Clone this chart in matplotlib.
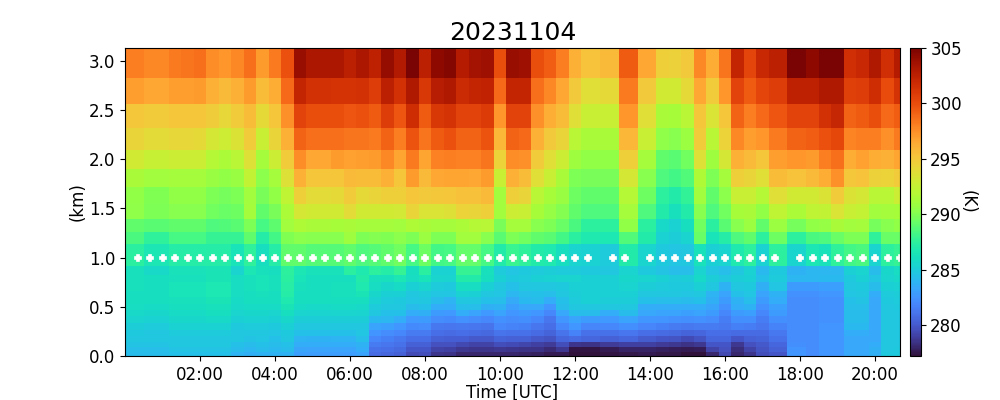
import matplotlib
matplotlib.use('Agg')
import matplotlib.pyplot as plt
import numpy as np

title = '20231104'

# scan times in minutes after 00:00 (three scans are missing)
scan_min = [0, 20, 40, 60, 80, 100, 120, 140, 160, 180, 200, 220, 240, 260, 280, 300, 320, 340, 360, 380,
            400, 420, 440, 460, 480, 500, 520, 540, 560, 580, 600, 620, 640, 660, 680, 700, 720, 740, 780, 800,
            840, 860, 880, 900, 920, 940, 960, 980, 1000, 1020, 1040, 1080, 1100, 1120, 1140, 1160, 1180, 1200, 1220, 1240]

# layer edges in km, top to bottom
z_edges = [3.132, 2.830, 2.563, 2.319, 2.095, 1.902, 1.719, 1.546, 1.393, 1.261, 1.139, 0.915, 0.824,
           0.753, 0.661, 0.600, 0.529, 0.468, 0.407, 0.336, 0.264, 0.203, 0.142, 0.092, 0.041, 0.0]

# temperature (K) above 0.82 km, one list per layer
temp_upper = [
    [298.1,298.1,297.8,297.8,298.2,298.4,298.6,297.6,297.2,297.8,
     298.6,297,298.2,299.8,304,303.2,303.2,303.2,302.6,303.2,
     302.4,304.1,303,305,302.6,304.3,304.6,302.9,303.5,303.7,
     300,304,303.8,300,299.3,298.1,296.2,295.3,295.7,299.4,
     296.6,294.6,294.5,295,297.8,296.4,298.4,302.2,300.4,302,
     302.6,304.9,304.3,305,305,301.6,302,303.1,301.6,302.9],
    [296.9,296.9,296.6,296.6,296.9,296.9,297,296.2,295.7,296.2,
     297,295.6,296.4,298.9,302.2,301.5,301.5,301.4,301.4,301.5,
     300.8,302.6,301.5,303.1,301.1,302.8,303.1,301.9,302.2,302.3,
     298.9,302.2,302.2,298.6,297.8,296.6,295,293.8,294.1,298.2,
     295,293,293,294.1,296.6,294.8,297.2,300.5,299.4,300.4,
     300.8,302.5,302.4,303.1,303.1,300.7,300.8,301.7,300.1,301.4],
    [295.1,295.1,294.9,294.9,295.2,295.2,295.2,294.7,294.2,294.8,
     295.6,294.1,295.2,297.4,300.5,300,300,300,299.6,299.8,
     299.4,300.8,299.6,301.7,299.4,301.1,301.4,300.5,300.5,300.9,
     297.2,300.5,300.5,297.4,296.3,295.6,293.8,292.7,292.7,297.2,
     293.8,291.4,291.3,292,295.2,293.4,295.2,299.1,298.1,298.9,
     299.6,300.5,300.5,301.5,302.1,299.1,299.4,300,298.9,299.3],
    [294.3,294.3,294,294,294.2,294.2,294.1,293.2,292.9,293.5,
     294.9,292.7,294.3,296.2,299.1,298.6,298.6,298.6,298.4,298.4,
     298.2,299.1,298.1,299.7,298.4,299.4,299.8,299.1,299.1,299.7,
     295.8,299.1,298.9,296.2,295,294.3,292,291.4,291.4,295.8,
     292.7,290.4,290.2,290.8,294.8,292,294.4,297.8,296.9,297.2,
     298.2,299.1,299.3,299.8,300.3,297.9,298.1,298.1,297.4,298.2],
    [293,293,292.6,292.6,292.8,292.8,292.8,291.8,291.5,292,
     293.6,291.2,292.8,294.9,297.6,296.6,296.6,297,296.8,296.9,
     297,297.8,296.7,298.2,296.7,298,298.1,298,298,298.4,
     294.4,297.6,297.4,294.8,293.8,292.8,290.9,290.5,290.5,294.6,
     291.2,289.1,288.9,289.5,293.6,290.9,293.2,296.2,295.7,295.2,
     296.9,297.2,297,298.1,298.7,296.4,296.8,296.4,296.2,296.7],
    [291.4,291.4,291,291,291.2,291.2,291.2,290.7,290.5,290.7,
     292.4,290.3,291.2,293.6,296.2,295.2,295.2,295.2,295.7,295.6,
     295.6,296.2,295.2,297,295.7,296.6,296.7,296.7,296.6,297,
     292.7,296.2,295.6,293.8,292.7,291.4,289.9,289.7,289.7,293.2,
     290.2,288.5,288.2,288.7,291.6,289.9,291.2,294.6,294.3,293.8,
     295.6,295.3,295.7,296.4,297.4,295.1,295.3,294.5,294.4,294.9],
    [290.5,290.5,290,290,290.5,290.5,290.5,289.8,289.6,289.8,
     291,289.7,290.5,292.2,294.6,294,294,294.1,294.8,294.1,
     294.3,294.6,294.6,295.2,295,295.1,295.2,295.4,295.4,295.7,
     291,294.6,294.3,292,291.3,290.7,289.4,289.1,289.1,291.8,
     289.4,287.5,287,287.7,291,289.1,290.3,292.7,292.7,291.8,
     293.8,293,293,293.5,294.9,293.5,293.2,292,292,292.8],
    [290.4,290.4,289.8,289.8,290.2,290.2,290.2,289.5,289.3,289.4,
     291.2,289.1,289.7,291.5,293.2,293,293,293,294,293,
     293,293,293.1,294.3,293.4,293.4,293.7,294.4,294.3,294.6,
     291,292.8,292.7,291.3,290.6,290.1,289.1,288.5,288.6,291.2,
     288.5,287,286.2,287,290.2,288.6,289.5,291.3,291.4,290.5,
     292.2,291.5,292.2,292.4,293.4,292.7,292.5,291,291.2,291.3],
    [289.1,289.1,288.9,288.9,289.1,289.1,289.1,288.6,288.7,288.9,
     289.8,288.3,289,291,291.6,291.4,291.4,291.3,291.4,291.1,
     291.2,291.1,291,291.6,291.4,291.2,291.2,291.5,291.8,291.9,
     289.7,291.2,291.1,290.2,289.9,289.3,288.4,287.5,287.5,290.5,
     287.3,285.7,285.3,286,289.5,287.3,288.9,290.2,290.8,289.1,
     290.8,289.6,290.5,290.6,291.4,291,291.2,289.6,290.2,290.5],
    [288.4,288.4,287.6,287.6,288.3,288.3,288.3,287.8,287.8,287.8,
     289.1,287.1,288.2,290,290.3,290.2,290.2,290.2,290.9,289.9,
     290.1,290,290.3,289.9,290.8,289.9,289.8,291,291,290.2,
     288.9,289.8,289.5,289.1,288.9,288.2,287.3,286.8,286.7,288.7,
     287,285.3,285.1,285.4,289.3,286.4,287.1,288.5,289.1,287.5,
     289.4,287.5,288.4,288.5,289.3,289.9,289.9,287.6,289.3,289.3],
    [287.3,287.3,286.6,286.6,287.1,287.1,287.1,287.1,287.1,286.4,
     287.6,286,287.1,289.1,289.1,288.8,288.8,288.8,289.1,288.5,
     288.8,289.1,289.5,288.3,289.4,288.2,288.3,289.2,289.2,288.3,
     287,287.9,287.6,287,286.8,286,285.4,285.3,285,287,
     285.5,284.9,284.6,284.7,286.3,285.2,285.4,286.8,287.5,285.3,
     287.5,285.5,286.6,286.3,287.6,288.2,288.4,285.4,287.5,287.8],
    [286.2,286.2,285.7,285.7,286.3,286.3,286.3,286.5,286.5,285.4,
     286.6,286.2,286,287.5,286.6,286.3,286.3,286.3,287.4,286.8,
     287.5,287.1,287.8,286,287.4,285.3,285.3,287.8,287.8,286.2,
     285,284.6,284.9,285,285.1,285,285,284.9,284.7,285.4,
     284.9,284.5,284.3,284.3,285.4,284.6,284.3,284.7,285.3,284.1,
     284.9,283.8,284,284,284,285.2,285.4,284.2,285.6,285.9],
]

# temperature (K) below 0.82 km, one list per scan, top layer first
temp_lower = [
    [286.2,286.2,286.1,286.1,285.9,285.7,285.4,285.1,284.9,284.7,284.5,284.3,284.2],
    [286.2,286.2,286.1,286.1,285.9,285.7,285.4,285.1,284.9,284.7,284.5,284.3,284.2],
    [286,286.1,286,286,285.8,285.6,285.3,285,284.8,284.7,284.5,284.3,284.2],
    [286,286.1,286,286,285.8,285.6,285.3,285,284.8,284.7,284.5,284.3,284.2],
    [286.2,286.4,286.4,286.2,286,285.8,285.6,285.3,285,284.8,284.7,284.5,284.4],
    [286.2,286.4,286.4,286.2,286,285.8,285.6,285.3,285,284.8,284.7,284.5,284.4],
    [286.2,286.4,286.4,286.2,286,285.8,285.6,285.3,285,284.8,284.7,284.5,284.4],
    [286.5,286.7,286.7,286.5,286.2,286,285.7,285.3,285,284.8,284.7,284.5,284.4],
    [286.5,286.7,286.7,286.5,286.2,286,285.7,285.3,285,284.8,284.7,284.5,284.4],
    [285.9,285.9,285.9,285.8,285.7,285.5,285.2,284.9,284.8,284.7,284.4,284.2,283.9],
    [286.2,286.2,286.1,286,285.8,285.6,285.3,285,284.7,284.5,284.2,284,283.7],
    [286.4,286.4,286.2,286,285.8,285.6,285.3,285,284.7,284.6,284.4,284.2,283.8],
    [286.2,286.2,286.1,286,285.8,285.5,285.2,284.9,284.6,284.4,284.2,284.1,283.8],
    [287.3,287.2,287.1,286.8,286.5,286,285.6,285.2,284.9,284.7,284.4,284.2,283.8],
    [286.4,286.2,286.1,286,285.8,285.5,285.1,284.7,284.4,283.9,283.6,283.2,283],
    [286.1,286.1,286.1,286,285.7,285.4,285.1,284.7,284.4,283.8,283.6,283.1,282.9],
    [286.1,286.1,286.1,286,285.7,285.4,285.1,284.7,284.4,283.8,283.6,283.1,282.9],
    [286.1,286.2,286.2,286.1,285.8,285.5,285.1,284.8,284.4,283.9,283.6,283.1,282.9],
    [286.1,286.2,286.2,286.1,285.8,285.5,285.1,284.8,284.4,283.9,283.6,283.1,282.9],
    [287,286.8,286.5,286,285.7,285.4,285.1,284.8,284.6,284.3,283.8,283.6,283.1],
    [286.2,285.9,285.6,285.3,285,284.7,284.1,283.1,282.5,281.9,281.4,281,280.7],
    [286.2,285.6,285.2,285,284.8,284.4,284,283,282.1,281.6,281.2,280.8,280.5],
    [286.6,285.8,285.2,284.9,284.7,284.4,283.6,282.6,281.9,281.3,281,280.6,280.3],
    [285.9,285.2,284.8,284.6,284.2,283.6,282.7,282,281.4,280.8,280.3,279.9,279.4],
    [286.4,285.5,285,284.7,284.4,283.7,282.8,282.1,281.4,280.8,280.3,279.9,279.5],
    [285.5,285,284.6,284.2,283.6,282.8,282.1,281.3,280.8,280.3,279.6,279.1,278.6],
    [285.4,284.9,284.6,283.9,283.5,282.7,282,281.2,280.7,280.2,279.6,279,278.5],
    [287,285.9,285.3,284.8,284.3,283.5,282.4,281.3,280.8,280.2,279.3,278.7,278],
    [287,285.9,285.2,284.8,284.3,283.1,282.1,281.2,280.7,280,279.1,278.6,278],
    [286,285.2,284.8,284.4,283.7,282.7,281.9,281.1,280.6,280,279.1,278.6,278],
    [285.2,284.8,284.6,284.3,283.8,283.1,282.4,281.9,281.1,280.4,279.5,278.7,278],
    [284.9,284.4,284,283.4,283,282.6,282.1,281.7,281,280.3,279.4,278.6,278],
    [285,284.7,284.3,284.1,283.3,282.8,282.2,281.6,280.9,280.3,279.2,278.5,277.9],
    [285.2,284.8,284.4,284.2,283.3,282.6,281.9,281.2,280.7,280,279,278.4,277.8],
    [285.3,284.8,284.3,283.6,282.6,281.9,281.2,280.8,280.4,279.8,278.8,278.1,277.6],
    [285.4,284.9,284.7,284.4,284.2,283.3,282.6,281.9,281.1,280.5,279.5,278.7,277.6],
    [285.4,285.2,285.1,285,284.7,284.2,283.1,282.6,281.7,280.7,278.6,277.4,277.2],
    [285.2,285.2,285.2,285.2,284.8,284.2,282.8,281.8,280.9,280.5,278.5,277.4,277.2],
    [285.2,285.2,285.2,285.1,284.7,283.6,282.7,281.9,280.9,280.3,278.8,277.6,277.4],
    [285.6,285.4,285.2,285.1,284.8,284.2,283.1,282.3,281.2,280.5,279,277.9,277.5],
    [285.4,285.1,284.8,284.4,283.6,283.3,282.6,281.8,280.8,280.1,279,277.9,277.6],
    [285.2,285,284.7,284.3,283.6,283.1,282.5,281.6,280.7,279.9,278.8,277.8,277.5],
    [285,284.9,284.7,284.3,283.6,283.1,282.4,281.4,280.6,279.8,278.7,277.7,277.5],
    [285.1,284.9,284.6,284.2,283.5,283,282.3,281.3,280.4,279.4,278.5,277.6,277.2],
    [285.7,285.2,284.8,284.4,283.6,283.1,282.4,281.4,280.5,279.8,278.7,277.7,277.2],
    [285.1,284.7,283.9,283.7,283.2,282.8,282.1,281.4,280.8,280.5,279.9,279.1,278],
    [284.8,283.8,283.1,282.8,282.4,281.9,281.5,281.3,280.8,280.5,279.9,279.6,279.3],
    [285.1,284.8,284.4,283.8,283.5,282.8,282.2,281.6,280.7,279.9,278.7,278.2,278],
    [285.2,284.9,284.6,284.3,283.8,283,282.3,281.5,280.7,280.3,279.6,279.1,278.6],
    [284.4,283.7,283.1,282.8,282.4,281.9,281.5,281.2,280.7,280.4,280,279.7,279.5],
    [285,284.6,283.8,283.5,283,282.8,282.2,281.7,281.3,280.9,280.5,280.3,279.9],
    [284,282.8,282.4,282.1,282.1,282.1,282.1,282.1,282.1,282.1,282.3,282.5,282.6],
    [284,282.8,282.4,282.1,282.1,282.1,282.1,282.1,282.1,282.1,282.1,282.1,282.1],
    [284.1,283,282.6,282.4,282.4,282.4,282.4,282.5,282.6,282.6,282.6,282.6,282.6],
    [284.1,283,282.6,282.4,282.4,282.4,282.4,282.5,282.6,282.6,282.6,282.6,282.6],
    [284.9,284.8,284.6,284.4,284.3,284.2,284.2,284.1,283.6,283.3,283.3,283.3,283.3],
    [285.2,284.9,284.7,284.5,284.3,284.2,284.2,284.1,283.6,283.3,283.3,283.3,283.3],
    [284.6,284.2,283.6,283.3,283.3,283.3,283.3,283.3,283.3,283.3,283.6,283.7,283.7],
    [285.5,285.2,285,284.9,284.8,284.8,284.8,284.8,284.8,284.8,284.8,284.8,284.9],
    [285.7,285.3,285.1,285,284.9,284.8,284.8,284.8,284.8,284.8,284.8,284.9,284.9],
]

# white marks at 1 km, none on the first scan
mark_km = [np.nan] + [1.0] * 59

tick_hours = [2, 4, 6, 8, 10, 12, 14, 16, 18, 20]
tick_labels = ['02:00', '04:00', '06:00', '08:00', '10:00', '12:00', '14:00', '16:00', '18:00', '20:00']
cbar_ticks = [280, 285, 290, 295, 300, 305]

t = np.array(scan_min) / 60.0
mid = (t[:-1] + t[1:]) / 2
t_edges = np.concatenate([[t[0] - (mid[0] - t[0])], mid, [t[-1] + (t[-1] - mid[-1])]])

temp = np.vstack([np.array(temp_upper), np.array(temp_lower).T])

fig = plt.figure(figsize=(10, 4), dpi=100)
ax = fig.add_axes([0.125, 0.11, 0.775, 0.77])
mesh = ax.pcolormesh(t_edges, z_edges[::-1], temp[::-1], cmap='turbo', vmin=277.2, vmax=305)
ax.plot(t, mark_km, linestyle='none', marker='P', markersize=5, color='white', markeredgewidth=1.2)

ax.set_xlim(0, 1240 / 60.0)
ax.set_ylim(0, 3.132)
ax.set_xticks(tick_hours)
ax.set_xticklabels(tick_labels)
ax.set_yticks([0, 0.5, 1.0, 1.5, 2.0, 2.5, 3.0])
ax.tick_params(labelsize=12)
ax.set_xlabel('Time [UTC]', fontsize=12, labelpad=0)
ax.set_ylabel('(km)', fontsize=12, labelpad=2)
ax.set_title(title, fontsize=18)

cax = fig.add_axes([0.91, 0.11, 0.0105, 0.77])
cb = fig.colorbar(mesh, cax=cax)
cb.set_ticks(cbar_ticks)
cb.ax.tick_params(labelsize=12)
cb.set_label('(K)', fontsize=12, rotation=270, labelpad=11)

fig.savefig('out.png', dpi=100)
